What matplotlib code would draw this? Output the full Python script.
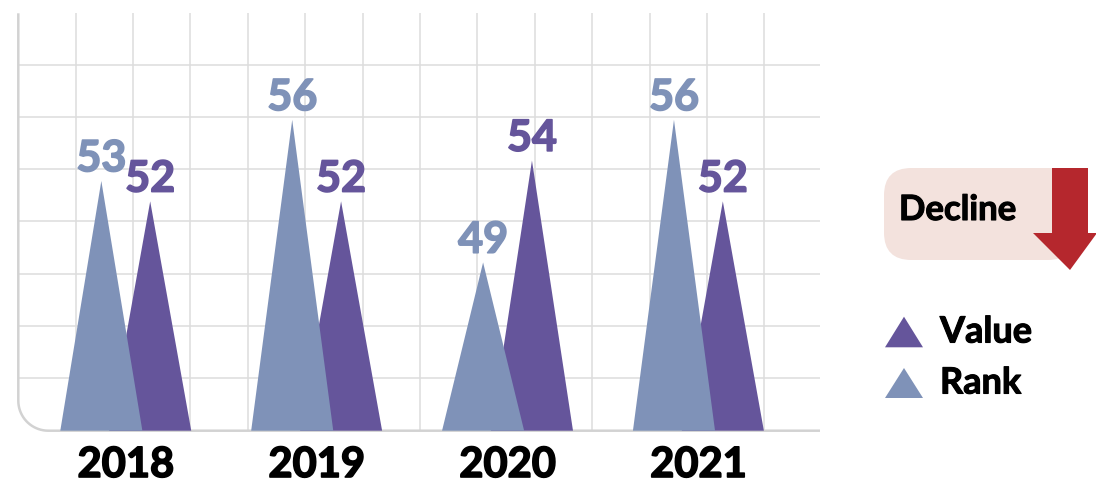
import numpy as np
import matplotlib
matplotlib.use("Agg")
import matplotlib.pyplot as plt
from matplotlib.patches import Polygon, FancyBboxPatch
import matplotlib.transforms as mtransforms
import matplotlib.patheffects as pe

# ---- data ----
years = ["2018", "2019", "2020", "2021"]
rank_vals = [53, 56, 49, 56]
value_vals = [52, 52, 54, 52]
legend_labels = ["Value", "Rank"]
badge_text = "Decline"

# ---- style ----
RANK_C = "#7f92b8"
VALUE_C = "#65559b"
GRID_C = "#dddddd"
FONT = ["Lato", "DejaVu Sans"]
plt.rcParams["font.family"] = FONT
WT = "bold"

def thick(c, w=1.2):
    return [pe.withStroke(linewidth=w, foreground=c)]

W, H = 1096, 486
fig = plt.figure(figsize=(W / 100, H / 100), dpi=100)

def fx(x):
    return x / W

def fy(y):
    return (H - y) / H

ax_l, ax_r, ax_t, ax_b = 18.3, 820, 13.3, 430.7
ax = fig.add_axes([fx(ax_l), fy(ax_b), fx(ax_r - ax_l), (ax_b - ax_t) / H])
ax.set_xlim(-0.563, 3.637)
BASE = 40.74
ax.set_ylim(BASE, 61.23)
ax.axis("off")

# grid
for k in range(1, 14):
    ax.axvline(-0.563 + k * 0.3007, color=GRID_C, lw=1.1, zorder=0)
for k in range(1, 8):
    ax.axhline(BASE + k * (61.23 - BASE) * 0.1253, color=GRID_C, lw=1.1, zorder=0)

# rounded axis spine
aw, ah = ax_r - ax_l, ax_b - ax_t
r = 30
rx, ry = r / aw, r / ah
th = np.linspace(np.pi, 1.5 * np.pi, 20)
pts = [(0, 1)] + [(rx + rx * np.cos(t), ry + ry * np.sin(t)) for t in th] + [(1, 0)]
ax.plot([p[0] for p in pts], [p[1] for p in pts], transform=ax.transAxes,
        color="#d2d2d2", lw=1.8, zorder=1, clip_on=False, solid_capstyle="butt")

HALF = 0.215
OFF = 0.128
blend = mtransforms.blended_transform_factory(ax.transData, fig.transFigure)
for i, (rv, vv) in enumerate(zip(rank_vals, value_vals)):
    xv = i + OFF
    ax.fill([xv - HALF, xv, xv + HALF], [BASE, vv, BASE], color=VALUE_C, lw=0, zorder=2)
    xr = i - OFF
    ax.fill([xr - HALF, xr, xr + HALF], [BASE, rv, BASE], color=RANK_C, lw=0, zorder=3)
    ax.annotate(str(rv), (xr, rv), xytext=(0, 7), textcoords="offset points",
                ha="center", va="baseline", fontsize=31, fontweight=WT,
                color=RANK_C, zorder=4, path_effects=thick(RANK_C))
    ax.annotate(str(vv), (xv, vv), xytext=(0, 7), textcoords="offset points",
                ha="center", va="baseline", fontsize=31, fontweight=WT,
                color=VALUE_C, zorder=4, path_effects=thick(VALUE_C))
    ax.text(i, fy(484), years[i], transform=blend,
            ha="center", va="bottom", fontsize=30, fontweight=WT, color="black",
            path_effects=thick("black"))

# Decline badge
box = FancyBboxPatch((fx(884), fy(260)), fx(1075 - 884), (260 - 168) / H,
                     boxstyle="round,pad=0,rounding_size=0.025", transform=fig.transFigure,
                     facecolor="#f3e2dd", edgecolor="none", mutation_aspect=W / H)
fig.patches.append(box)
arrow_pts = [(1052, 168), (1088, 168), (1088, 233), (1097, 233), (1070, 270),
             (1033, 233), (1052, 233)]
fig.patches.append(Polygon([(fx(x), fy(y)) for x, y in arrow_pts], closed=True,
                           transform=fig.transFigure, facecolor="#b5272d", edgecolor="none"))
fig.text(fx(899), fy(210), badge_text, ha="left", va="center", fontsize=25,
         fontweight=WT, color="black", path_effects=thick("black", 0.8))

# legend
for lab, col, (yt, yb) in zip(legend_labels, [VALUE_C, RANK_C], [(316.7, 347.3), (368, 398)]):
    tri = [(885, yb), (904, yt), (923, yb)]
    fig.patches.append(Polygon([(fx(x), fy(y)) for x, y in tri], closed=True,
                               transform=fig.transFigure, facecolor=col, edgecolor="none"))
    fig.text(fx(940), fy((yt + yb) / 2), lab, ha="left", va="center", fontsize=26,
             fontweight=WT, color="black", path_effects=thick("black", 0.8))

fig.savefig("out.png", dpi=100)
